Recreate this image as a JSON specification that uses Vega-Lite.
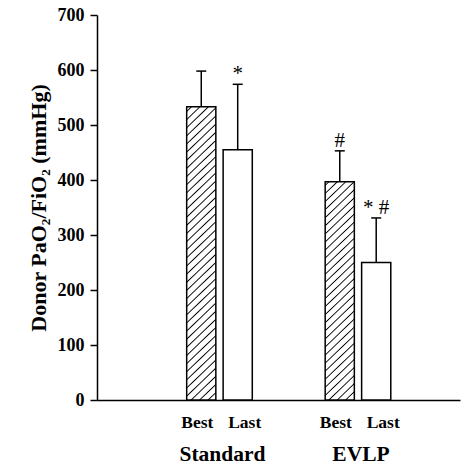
{
  "$schema": "https://vega.github.io/schema/vega-lite/v6.json",
  "autosize": {"type": "none"},
  "width": 363,
  "height": 385,
  "padding": {"left": 97, "top": 15, "right": 2, "bottom": 69},
  "background": "white",
  "config": {"view": {"stroke": null}, "font": "Liberation Serif"},
  "data": {"values": [
    {"group": "Standard", "cond": "Best", "mean": 533, "upper": 598, "sig": ""},
    {"group": "Standard", "cond": "Last", "mean": 455, "upper": 574, "sig": "*"},
    {"group": "EVLP", "cond": "Best", "mean": 397, "upper": 453, "sig": "#"},
    {"group": "EVLP", "cond": "Last", "mean": 250, "upper": 331, "sig": "* #"}
  ]},
  "encoding": {
    "x": {"field": "group", "type": "nominal",
      "scale": {"domain": ["Standard", "EVLP"], "paddingInner": 0, "paddingOuter": 0.3105, "align": 0.619},
      "axis": {"title": null, "labelAngle": 0, "ticks": false, "labelPadding": 43, "labelOffset": 3, "labelFont": "Liberation Serif", "labelFontSize": 21.5, "labelFontWeight": "bold", "labelColor": "black", "domainColor": "black", "domainWidth": 1.5}},
    "xOffset": {"field": "cond", "type": "nominal",
      "scale": {"domain": ["Best", "Last"], "paddingInner": 0.2, "paddingOuter": 1.0786}}
  },
  "layer": [
    {
      "mark": {"type": "bar", "stroke": "black", "strokeWidth": 1.5},
      "encoding": {
        "y": {"field": "mean", "type": "quantitative",
          "scale": {"domain": [0, 700], "nice": false},
          "axis": {"values": [0, 100, 200, 300, 400, 500, 600, 700], "grid": false, "tickSize": 7, "tickColor": "black", "tickWidth": 1.5, "domainColor": "black", "domainWidth": 1.5, "labelFont": "Liberation Serif", "labelFontSize": 18, "labelFontWeight": "bold", "labelColor": "black", "labelPadding": 6, "title": "Donor PaO₂/FiO₂ (mmHg)", "titleFont": "Liberation Serif", "titleFontSize": 22, "titleFontWeight": "bold", "titleColor": "black", "titlePadding": 7}},
        "fill": {
          "condition": [
            {"test": "datum.cond === 'Last'", "value": "white"},
            {"test": "datum.group === 'Standard'", "value": {"gradient": "linear", "x1": 0, "y1": 0, "x2": 0.105, "y2": 1.1, "stops": [
              {"offset": 0.010, "color": "#fff"}, {"offset": 0.014, "color": "#000"}, {"offset": 0.018, "color": "#fff"},
              {"offset": 0.035, "color": "#fff"}, {"offset": 0.039, "color": "#000"}, {"offset": 0.043, "color": "#fff"},
              {"offset": 0.060, "color": "#fff"}, {"offset": 0.064, "color": "#000"}, {"offset": 0.068, "color": "#fff"},
              {"offset": 0.085, "color": "#fff"}, {"offset": 0.089, "color": "#000"}, {"offset": 0.093, "color": "#fff"},
              {"offset": 0.110, "color": "#fff"}, {"offset": 0.114, "color": "#000"}, {"offset": 0.118, "color": "#fff"},
              {"offset": 0.135, "color": "#fff"}, {"offset": 0.139, "color": "#000"}, {"offset": 0.143, "color": "#fff"},
              {"offset": 0.160, "color": "#fff"}, {"offset": 0.164, "color": "#000"}, {"offset": 0.168, "color": "#fff"},
              {"offset": 0.185, "color": "#fff"}, {"offset": 0.189, "color": "#000"}, {"offset": 0.193, "color": "#fff"},
              {"offset": 0.210, "color": "#fff"}, {"offset": 0.214, "color": "#000"}, {"offset": 0.218, "color": "#fff"},
              {"offset": 0.235, "color": "#fff"}, {"offset": 0.239, "color": "#000"}, {"offset": 0.243, "color": "#fff"},
              {"offset": 0.260, "color": "#fff"}, {"offset": 0.264, "color": "#000"}, {"offset": 0.268, "color": "#fff"},
              {"offset": 0.285, "color": "#fff"}, {"offset": 0.289, "color": "#000"}, {"offset": 0.293, "color": "#fff"},
              {"offset": 0.310, "color": "#fff"}, {"offset": 0.314, "color": "#000"}, {"offset": 0.318, "color": "#fff"},
              {"offset": 0.335, "color": "#fff"}, {"offset": 0.339, "color": "#000"}, {"offset": 0.343, "color": "#fff"},
              {"offset": 0.360, "color": "#fff"}, {"offset": 0.364, "color": "#000"}, {"offset": 0.368, "color": "#fff"},
              {"offset": 0.385, "color": "#fff"}, {"offset": 0.389, "color": "#000"}, {"offset": 0.393, "color": "#fff"},
              {"offset": 0.410, "color": "#fff"}, {"offset": 0.414, "color": "#000"}, {"offset": 0.418, "color": "#fff"},
              {"offset": 0.435, "color": "#fff"}, {"offset": 0.439, "color": "#000"}, {"offset": 0.443, "color": "#fff"},
              {"offset": 0.460, "color": "#fff"}, {"offset": 0.464, "color": "#000"}, {"offset": 0.468, "color": "#fff"},
              {"offset": 0.485, "color": "#fff"}, {"offset": 0.489, "color": "#000"}, {"offset": 0.493, "color": "#fff"},
              {"offset": 0.510, "color": "#fff"}, {"offset": 0.514, "color": "#000"}, {"offset": 0.518, "color": "#fff"},
              {"offset": 0.535, "color": "#fff"}, {"offset": 0.539, "color": "#000"}, {"offset": 0.543, "color": "#fff"},
              {"offset": 0.560, "color": "#fff"}, {"offset": 0.564, "color": "#000"}, {"offset": 0.568, "color": "#fff"},
              {"offset": 0.585, "color": "#fff"}, {"offset": 0.589, "color": "#000"}, {"offset": 0.593, "color": "#fff"},
              {"offset": 0.610, "color": "#fff"}, {"offset": 0.614, "color": "#000"}, {"offset": 0.618, "color": "#fff"},
              {"offset": 0.635, "color": "#fff"}, {"offset": 0.639, "color": "#000"}, {"offset": 0.643, "color": "#fff"},
              {"offset": 0.660, "color": "#fff"}, {"offset": 0.664, "color": "#000"}, {"offset": 0.668, "color": "#fff"},
              {"offset": 0.685, "color": "#fff"}, {"offset": 0.689, "color": "#000"}, {"offset": 0.693, "color": "#fff"},
              {"offset": 0.710, "color": "#fff"}, {"offset": 0.714, "color": "#000"}, {"offset": 0.718, "color": "#fff"},
              {"offset": 0.735, "color": "#fff"}, {"offset": 0.739, "color": "#000"}, {"offset": 0.743, "color": "#fff"},
              {"offset": 0.760, "color": "#fff"}, {"offset": 0.764, "color": "#000"}, {"offset": 0.768, "color": "#fff"},
              {"offset": 0.785, "color": "#fff"}, {"offset": 0.789, "color": "#000"}, {"offset": 0.793, "color": "#fff"},
              {"offset": 0.810, "color": "#fff"}, {"offset": 0.814, "color": "#000"}, {"offset": 0.818, "color": "#fff"},
              {"offset": 0.835, "color": "#fff"}, {"offset": 0.839, "color": "#000"}, {"offset": 0.843, "color": "#fff"},
              {"offset": 0.860, "color": "#fff"}, {"offset": 0.864, "color": "#000"}, {"offset": 0.868, "color": "#fff"},
              {"offset": 0.885, "color": "#fff"}, {"offset": 0.889, "color": "#000"}, {"offset": 0.893, "color": "#fff"},
              {"offset": 0.910, "color": "#fff"}, {"offset": 0.914, "color": "#000"}, {"offset": 0.918, "color": "#fff"},
              {"offset": 0.935, "color": "#fff"}, {"offset": 0.939, "color": "#000"}, {"offset": 0.943, "color": "#fff"},
              {"offset": 0.960, "color": "#fff"}, {"offset": 0.964, "color": "#000"}, {"offset": 0.968, "color": "#fff"},
              {"offset": 0.985, "color": "#fff"}, {"offset": 0.989, "color": "#000"}, {"offset": 0.993, "color": "#fff"}
            ]}}
          ],
          "value": {"gradient": "linear", "x1": 0, "y1": 0, "x2": 0.1436, "y2": 1.12, "stops": [
            {"offset": 0.0100, "color": "#fff"}, {"offset": 0.0150, "color": "#000"}, {"offset": 0.0200, "color": "#fff"},
            {"offset": 0.0425, "color": "#fff"}, {"offset": 0.0475, "color": "#000"}, {"offset": 0.0525, "color": "#fff"},
            {"offset": 0.0750, "color": "#fff"}, {"offset": 0.0800, "color": "#000"}, {"offset": 0.0850, "color": "#fff"},
            {"offset": 0.1075, "color": "#fff"}, {"offset": 0.1125, "color": "#000"}, {"offset": 0.1175, "color": "#fff"},
            {"offset": 0.1400, "color": "#fff"}, {"offset": 0.1450, "color": "#000"}, {"offset": 0.1500, "color": "#fff"},
            {"offset": 0.1725, "color": "#fff"}, {"offset": 0.1775, "color": "#000"}, {"offset": 0.1825, "color": "#fff"},
            {"offset": 0.2050, "color": "#fff"}, {"offset": 0.2100, "color": "#000"}, {"offset": 0.2150, "color": "#fff"},
            {"offset": 0.2375, "color": "#fff"}, {"offset": 0.2425, "color": "#000"}, {"offset": 0.2475, "color": "#fff"},
            {"offset": 0.2700, "color": "#fff"}, {"offset": 0.2750, "color": "#000"}, {"offset": 0.2800, "color": "#fff"},
            {"offset": 0.3025, "color": "#fff"}, {"offset": 0.3075, "color": "#000"}, {"offset": 0.3125, "color": "#fff"},
            {"offset": 0.3350, "color": "#fff"}, {"offset": 0.3400, "color": "#000"}, {"offset": 0.3450, "color": "#fff"},
            {"offset": 0.3675, "color": "#fff"}, {"offset": 0.3725, "color": "#000"}, {"offset": 0.3775, "color": "#fff"},
            {"offset": 0.4000, "color": "#fff"}, {"offset": 0.4050, "color": "#000"}, {"offset": 0.4100, "color": "#fff"},
            {"offset": 0.4325, "color": "#fff"}, {"offset": 0.4375, "color": "#000"}, {"offset": 0.4425, "color": "#fff"},
            {"offset": 0.4650, "color": "#fff"}, {"offset": 0.4700, "color": "#000"}, {"offset": 0.4750, "color": "#fff"},
            {"offset": 0.4975, "color": "#fff"}, {"offset": 0.5025, "color": "#000"}, {"offset": 0.5075, "color": "#fff"},
            {"offset": 0.5300, "color": "#fff"}, {"offset": 0.5350, "color": "#000"}, {"offset": 0.5400, "color": "#fff"},
            {"offset": 0.5625, "color": "#fff"}, {"offset": 0.5675, "color": "#000"}, {"offset": 0.5725, "color": "#fff"},
            {"offset": 0.5950, "color": "#fff"}, {"offset": 0.6000, "color": "#000"}, {"offset": 0.6050, "color": "#fff"},
            {"offset": 0.6275, "color": "#fff"}, {"offset": 0.6325, "color": "#000"}, {"offset": 0.6375, "color": "#fff"},
            {"offset": 0.6600, "color": "#fff"}, {"offset": 0.6650, "color": "#000"}, {"offset": 0.6700, "color": "#fff"},
            {"offset": 0.6925, "color": "#fff"}, {"offset": 0.6975, "color": "#000"}, {"offset": 0.7025, "color": "#fff"},
            {"offset": 0.7250, "color": "#fff"}, {"offset": 0.7300, "color": "#000"}, {"offset": 0.7350, "color": "#fff"},
            {"offset": 0.7575, "color": "#fff"}, {"offset": 0.7625, "color": "#000"}, {"offset": 0.7675, "color": "#fff"},
            {"offset": 0.7900, "color": "#fff"}, {"offset": 0.7950, "color": "#000"}, {"offset": 0.8000, "color": "#fff"},
            {"offset": 0.8225, "color": "#fff"}, {"offset": 0.8275, "color": "#000"}, {"offset": 0.8325, "color": "#fff"},
            {"offset": 0.8550, "color": "#fff"}, {"offset": 0.8600, "color": "#000"}, {"offset": 0.8650, "color": "#fff"},
            {"offset": 0.8875, "color": "#fff"}, {"offset": 0.8925, "color": "#000"}, {"offset": 0.8975, "color": "#fff"},
            {"offset": 0.9200, "color": "#fff"}, {"offset": 0.9250, "color": "#000"}, {"offset": 0.9300, "color": "#fff"},
            {"offset": 0.9525, "color": "#fff"}, {"offset": 0.9575, "color": "#000"}, {"offset": 0.9625, "color": "#fff"},
            {"offset": 0.9850, "color": "#fff"}, {"offset": 0.9900, "color": "#000"}, {"offset": 0.9950, "color": "#fff"}
          ]}
        }
      }
    },
    {
      "mark": {"type": "rule", "color": "black", "strokeWidth": 1.5},
      "encoding": {
        "y": {"field": "mean", "type": "quantitative"},
        "y2": {"field": "upper"}
      }
    },
    {
      "mark": {"type": "tick", "orient": "horizontal", "size": 10, "thickness": 1.5, "color": "black", "opacity": 1},
      "encoding": {
        "y": {"field": "upper", "type": "quantitative"}
      }
    },
    {
      "mark": {"type": "text", "baseline": "alphabetic", "dy": -4, "fontSize": 21, "font": "Liberation Serif", "color": "black"},
      "encoding": {
        "y": {"field": "upper", "type": "quantitative"},
        "text": {"field": "sig"}
      }
    },
    {
      "transform": [{"filter": "datum.cond === 'Best'"}],
      "mark": {"type": "text", "baseline": "alphabetic", "dy": 28, "dx": -4, "fontSize": 17.5, "fontWeight": "bold", "font": "Liberation Serif", "color": "black"},
      "encoding": {
        "y": {"datum": 0},
        "text": {"field": "cond"}
      }
    },
    {
      "transform": [{"filter": "datum.cond === 'Last'"}],
      "mark": {"type": "text", "baseline": "alphabetic", "dy": 28, "dx": 7, "fontSize": 17.5, "fontWeight": "bold", "font": "Liberation Serif", "color": "black"},
      "encoding": {
        "y": {"datum": 0},
        "text": {"field": "cond"}
      }
    }
  ]
}
